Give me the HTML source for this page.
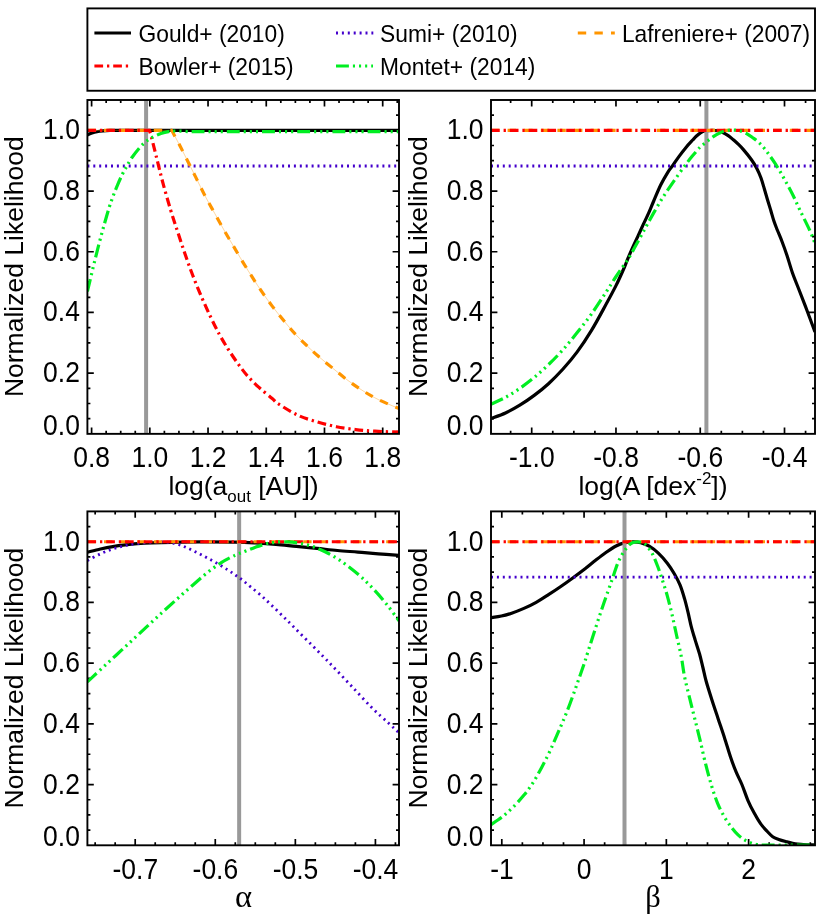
<!DOCTYPE html>
<html><head><meta charset="utf-8"><title>Normalized Likelihood</title>
<style>
html,body{margin:0;padding:0;background:#fff;}
body{width:830px;height:914px;overflow:hidden;}
svg{display:block;will-change:transform;font-family:"Liberation Sans",sans-serif;font-size:26.5px;fill:#000;}
</style></head><body>
<svg width="830" height="914" viewBox="0 0 830 914">
<rect width="830" height="914" fill="#fff"/>
<path d="M91.6 100v6.4M91.6 433.85v-6.4M106.16 100v3M106.16 433.85v-3M120.71 100v3M120.71 433.85v-3M135.26 100v3M135.26 433.85v-3M149.82 100v6.4M149.82 433.85v-6.4M164.38 100v3M164.38 433.85v-3M178.93 100v3M178.93 433.85v-3M193.48 100v3M193.48 433.85v-3M208.04 100v6.4M208.04 433.85v-6.4M222.59 100v3M222.59 433.85v-3M237.15 100v3M237.15 433.85v-3M251.7 100v3M251.7 433.85v-3M266.26 100v6.4M266.26 433.85v-6.4M280.81 100v3M280.81 433.85v-3M295.37 100v3M295.37 433.85v-3M309.92 100v3M309.92 433.85v-3M324.48 100v6.4M324.48 433.85v-6.4M339.03 100v3M339.03 433.85v-3M353.59 100v3M353.59 433.85v-3M368.14 100v3M368.14 433.85v-3M382.7 100v6.4M382.7 433.85v-6.4M397.25 100v3M397.25 433.85v-3M87.4 418.68h3M399 418.68h-3M87.4 403.5h3M399 403.5h-3M87.4 388.33h3M399 388.33h-3M87.4 373.15h6.4M399 373.15h-6.4M87.4 357.98h3M399 357.98h-3M87.4 342.8h3M399 342.8h-3M87.4 327.62h3M399 327.62h-3M87.4 312.45h6.4M399 312.45h-6.4M87.4 297.28h3M399 297.28h-3M87.4 282.1h3M399 282.1h-3M87.4 266.93h3M399 266.93h-3M87.4 251.75h6.4M399 251.75h-6.4M87.4 236.58h3M399 236.58h-3M87.4 221.4h3M399 221.4h-3M87.4 206.23h3M399 206.23h-3M87.4 191.05h6.4M399 191.05h-6.4M87.4 175.88h3M399 175.88h-3M87.4 160.7h3M399 160.7h-3M87.4 145.52h3M399 145.52h-3M87.4 130.35h6.4M399 130.35h-6.4M87.4 115.18h3M399 115.18h-3" stroke="#000" stroke-width="1.7" fill="none"/>
<clipPath id="c1"><rect x="87.4" y="100" width="311.6" height="333.85"/></clipPath>
<g clip-path="url(#c1)" fill="none" stroke-width="3.2">
<path d="M87.4 134.9C88.17 134.58 90.4 133.53 92 133C93.6 132.47 95.17 132.05 97 131.7C98.83 131.35 100.83 131.11 103 130.9C105.17 130.69 107.5 130.54 110 130.45C112.5 130.36 116.67 130.37 118 130.35L399 130.35" stroke="#000000"/>
<line x1="146.1" y1="100" x2="146.1" y2="433.85" stroke="#999999" stroke-width="4.0"/>
<path d="M87.4 166L399 166" stroke="#4400cc" stroke-width="2.8" stroke-dasharray="2.0 3.9"/>
<path d="M87.4 130.35L171.3 130.35C171.5 130.59 171.02 129.14 172.5 131.8C173.98 134.46 177.62 141.32 180.2 146.3C182.78 151.28 185.42 156.57 188 161.7C190.58 166.83 192.82 171.32 195.7 177.1C198.58 182.88 202.1 190.3 205.3 196.4C208.5 202.5 211.68 207.92 214.9 213.7C218.12 219.48 221.48 225.65 224.6 231.1C227.72 236.55 230.48 241.12 233.6 246.4C236.72 251.68 240.08 257.5 243.3 262.8C246.52 268.1 249.7 273.22 252.9 278.2C256.1 283.18 259.28 288.05 262.5 292.7C265.72 297.35 268.67 301.45 272.2 306.1C275.73 310.75 279.85 315.93 283.7 320.6C287.55 325.27 291.43 329.92 295.3 334.1C299.17 338.28 303.05 342 306.9 345.7C310.75 349.4 314.13 352.58 318.4 356.3C322.67 360.02 327.57 363.97 332.5 368C337.43 372.03 342.85 376.65 348 380.5C353.15 384.35 358.27 387.88 363.4 391.1C368.53 394.32 372.87 396.88 378.8 399.8C384.73 402.72 395.63 407.13 399 408.6" stroke="#ff9500" stroke-width="0.7" stroke-opacity="0.55"/>
<path d="M87.4 130.35L171.3 130.35C171.5 130.59 171.02 129.14 172.5 131.8C173.98 134.46 177.62 141.32 180.2 146.3C182.78 151.28 185.42 156.57 188 161.7C190.58 166.83 192.82 171.32 195.7 177.1C198.58 182.88 202.1 190.3 205.3 196.4C208.5 202.5 211.68 207.92 214.9 213.7C218.12 219.48 221.48 225.65 224.6 231.1C227.72 236.55 230.48 241.12 233.6 246.4C236.72 251.68 240.08 257.5 243.3 262.8C246.52 268.1 249.7 273.22 252.9 278.2C256.1 283.18 259.28 288.05 262.5 292.7C265.72 297.35 268.67 301.45 272.2 306.1C275.73 310.75 279.85 315.93 283.7 320.6C287.55 325.27 291.43 329.92 295.3 334.1C299.17 338.28 303.05 342 306.9 345.7C310.75 349.4 314.13 352.58 318.4 356.3C322.67 360.02 327.57 363.97 332.5 368C337.43 372.03 342.85 376.65 348 380.5C353.15 384.35 358.27 387.88 363.4 391.1C368.53 394.32 372.87 396.88 378.8 399.8C384.73 402.72 395.63 407.13 399 408.6" stroke="#ff9500" stroke-dasharray="8.4 8.2"/>
<path d="M87.4 130.35L149.3 130.35C149.63 131.39 150 131.69 151.3 136.6C152.6 141.51 155.17 152.08 157.1 159.8C159.03 167.52 160.65 174.55 162.9 182.9C165.15 191.25 168.13 201.73 170.6 209.9C173.07 218.07 175.23 224.37 177.7 231.9C180.17 239.43 182.83 247.7 185.4 255.1C187.97 262.5 190.37 269.23 193.1 276.3C195.83 283.37 198.9 290.77 201.8 297.5C204.7 304.23 207.6 310.6 210.5 316.7C213.4 322.8 216.32 328.78 219.2 334.1C222.08 339.42 224.75 343.78 227.8 348.6C230.85 353.42 234.28 358.52 237.5 363C240.72 367.48 243.57 371.48 247.1 375.5C250.63 379.52 254.52 383.27 258.7 387.1C262.88 390.93 268.88 395.68 272.2 398.5C275.52 401.32 274.33 401.22 278.6 404C282.87 406.78 291.38 412.22 297.8 415.2C304.22 418.18 310.67 419.98 317.1 421.9C323.53 423.82 329.97 425.42 336.4 426.7C342.83 427.98 349.28 428.85 355.7 429.6C362.12 430.35 367.68 430.77 374.9 431.2C382.12 431.63 394.98 432.03 399 432.2" stroke="#ff0000" stroke-dasharray="8.7 3.9 2.3 3.9"/>
<path d="M87.4 291.5C88.25 287.92 90.52 278.13 92.5 270C94.48 261.87 97.25 250.62 99.3 242.7C101.35 234.78 103.12 228.48 104.8 222.5C106.48 216.52 108 211.23 109.4 206.8C110.8 202.37 111.85 199.52 113.2 195.9C114.55 192.28 115.97 188.72 117.5 185.1C119.03 181.48 120.85 177.37 122.4 174.2C123.95 171.03 125.27 168.8 126.8 166.1C128.33 163.4 129.53 160.98 131.6 158C133.67 155.02 136.85 150.92 139.2 148.2C141.55 145.48 143.53 143.5 145.7 141.7C147.87 139.9 149.67 138.75 152.2 137.4C154.73 136.05 158.18 134.57 160.9 133.6C163.62 132.63 165.98 132.03 168.5 131.6C171.02 131.17 172.75 131 176 131C179.25 131 186 131.5 188 131.6L399 131.7" stroke="#00ee22" stroke-dasharray="12.9 4.0 2.1 4.0 2.1 4.0 2.1 4.0"/>
</g>
<rect x="87.4" y="100" width="311.6" height="333.85" fill="none" stroke="#000" stroke-width="1.9"/>
<text transform="translate(91.6 466.55) scale(1 1.085)" text-anchor="middle">0.8</text>
<text transform="translate(149.82 466.55) scale(1 1.085)" text-anchor="middle">1.0</text>
<text transform="translate(208.04 466.55) scale(1 1.085)" text-anchor="middle">1.2</text>
<text transform="translate(266.26 466.55) scale(1 1.085)" text-anchor="middle">1.4</text>
<text transform="translate(324.48 466.55) scale(1 1.085)" text-anchor="middle">1.6</text>
<text transform="translate(382.7 466.55) scale(1 1.085)" text-anchor="middle">1.8</text>
<text transform="translate(79.9 434.55) scale(1 1.085)" text-anchor="end">0.0</text>
<text transform="translate(79.9 382.15) scale(1 1.085)" text-anchor="end">0.2</text>
<text transform="translate(79.9 321.45) scale(1 1.085)" text-anchor="end">0.4</text>
<text transform="translate(79.9 260.75) scale(1 1.085)" text-anchor="end">0.6</text>
<text transform="translate(79.9 200.05) scale(1 1.085)" text-anchor="end">0.8</text>
<text transform="translate(79.9 139.35) scale(1 1.085)" text-anchor="end">1.0</text>
<text transform="translate(23.2 266.73) rotate(-90)" text-anchor="middle">Normalized Likelihood</text>
<text x="243.5" y="495.25" text-anchor="middle">log(a<tspan font-size="16.96" dy="7.1">out</tspan><tspan dy="-7.1"> [AU])</tspan></text>
<path d="M510.63 100v3M510.63 433.85v-3M531.7 100v6.4M531.7 433.85v-6.4M552.77 100v3M552.77 433.85v-3M573.84 100v3M573.84 433.85v-3M594.9 100v3M594.9 433.85v-3M615.97 100v6.4M615.97 433.85v-6.4M637.04 100v3M637.04 433.85v-3M658.11 100v3M658.11 433.85v-3M679.17 100v3M679.17 433.85v-3M700.24 100v6.4M700.24 433.85v-6.4M721.31 100v3M721.31 433.85v-3M742.38 100v3M742.38 433.85v-3M763.44 100v3M763.44 433.85v-3M784.51 100v6.4M784.51 433.85v-6.4M805.58 100v3M805.58 433.85v-3M491 418.68h3M815 418.68h-3M491 403.5h3M815 403.5h-3M491 388.33h3M815 388.33h-3M491 373.15h6.4M815 373.15h-6.4M491 357.98h3M815 357.98h-3M491 342.8h3M815 342.8h-3M491 327.62h3M815 327.62h-3M491 312.45h6.4M815 312.45h-6.4M491 297.28h3M815 297.28h-3M491 282.1h3M815 282.1h-3M491 266.93h3M815 266.93h-3M491 251.75h6.4M815 251.75h-6.4M491 236.58h3M815 236.58h-3M491 221.4h3M815 221.4h-3M491 206.23h3M815 206.23h-3M491 191.05h6.4M815 191.05h-6.4M491 175.88h3M815 175.88h-3M491 160.7h3M815 160.7h-3M491 145.52h3M815 145.52h-3M491 130.35h6.4M815 130.35h-6.4M491 115.18h3M815 115.18h-3" stroke="#000" stroke-width="1.7" fill="none"/>
<clipPath id="c2"><rect x="491" y="100" width="324" height="333.85"/></clipPath>
<g clip-path="url(#c2)" fill="none" stroke-width="3.2">
<path d="M491 418.5C493.42 417.58 500.7 415.22 505.5 413C510.3 410.78 515.02 408.13 519.8 405.2C524.58 402.27 529.42 398.98 534.2 395.4C538.98 391.82 543.73 388.05 548.5 383.7C553.27 379.35 558.02 374.6 562.8 369.3C567.58 364 572.42 358.38 577.2 351.9C581.98 345.42 586.73 338.25 591.5 330.4C596.27 322.55 601.7 312.3 605.8 304.8C609.9 297.3 613.02 291.62 616.1 285.4C619.18 279.18 622.22 272.27 624.3 267.5C626.38 262.73 627.08 260.4 628.6 256.8C630.12 253.2 631.77 249.52 633.4 245.9C635.03 242.28 636.73 238.72 638.4 235.1C640.07 231.48 641.72 227.82 643.4 224.2C645.08 220.58 646.82 217.18 648.5 213.4C650.18 209.62 651.45 206.27 653.5 201.5C655.55 196.73 658.37 189.75 660.8 184.8C663.23 179.85 666.13 174.98 668.1 171.8C670.07 168.62 670.8 168.23 672.6 165.7C674.4 163.17 676.63 159.68 678.9 156.6C681.17 153.52 683.9 149.97 686.2 147.2C688.5 144.43 690.98 141.87 692.7 140C694.42 138.13 695.2 137.2 696.5 136C697.8 134.8 699.08 133.63 700.5 132.8C701.92 131.97 702.9 131.42 705 131C707.1 130.58 710.93 130.33 713.1 130.3C715.27 130.27 716.47 130.48 718 130.8C719.53 131.12 720.53 131.35 722.3 132.2C724.07 133.05 726.75 134.63 728.6 135.9C730.45 137.17 731.8 138.42 733.4 139.8C735 141.18 736.53 142.57 738.2 144.2C739.87 145.83 741.22 147.05 743.4 149.6C745.58 152.15 749.08 156.4 751.3 159.5C753.52 162.6 755.08 165.12 756.7 168.2C758.32 171.28 759.73 174.57 761 178C762.27 181.43 763.22 185.18 764.3 188.8C765.38 192.42 766.42 196.08 767.5 199.7C768.58 203.32 769.72 206.9 770.8 210.5C771.88 214.1 772.92 218.05 774 221.3C775.08 224.55 775.97 226.63 777.3 230C778.63 233.37 780.38 237.25 782 241.5C783.62 245.75 785.25 250.25 787 255.5C788.75 260.75 790.48 267.25 792.5 273C794.52 278.75 796.68 283.75 799.1 290C801.52 296.25 804.35 303.5 807 310.5C809.65 317.5 813.67 328.42 815 332" stroke="#000000"/>
<line x1="706.4" y1="100" x2="706.4" y2="433.85" stroke="#999999" stroke-width="4.0"/>
<path d="M491 166L815 166" stroke="#4400cc" stroke-width="2.8" stroke-dasharray="2.0 3.9"/>
<path d="M491 130.35L815 130.35" stroke="#ff9500" stroke-dasharray="8.4 8.2"/>
<path d="M491 130.35L815 130.35" stroke="#ff0000" stroke-dasharray="8.7 3.9 2.3 3.9"/>
<path d="M491 404.2C493.42 403.07 500.7 400.03 505.5 397.4C510.3 394.77 515.02 391.72 519.8 388.4C524.58 385.08 529.42 381.47 534.2 377.5C538.98 373.53 543.73 369.2 548.5 364.6C553.27 360 558.02 355.25 562.8 349.9C567.58 344.55 572.42 338.48 577.2 332.5C581.98 326.52 586.73 320.67 591.5 314C596.27 307.33 601.7 298.75 605.8 292.5C609.9 286.25 613.23 280.83 616.1 276.5C618.97 272.17 620.77 269.78 623 266.5C625.23 263.22 627.42 260.23 629.5 256.8C631.58 253.37 633.5 249.52 635.5 245.9C637.5 242.28 639.52 238.72 641.5 235.1C643.48 231.48 645.42 227.82 647.4 224.2C649.38 220.58 651.25 217.18 653.4 213.4C655.55 209.62 658 205.27 660.3 201.5C662.6 197.73 664.7 194.55 667.2 190.8C669.7 187.05 672.38 183.15 675.3 179C678.22 174.85 681.93 169.63 684.7 165.9C687.47 162.17 689.38 159.67 691.9 156.6C694.42 153.53 697.7 149.7 699.8 147.5C701.9 145.3 702.92 144.72 704.5 143.4C706.08 142.08 707.7 140.8 709.3 139.6C710.9 138.4 712.5 137.23 714.1 136.2C715.7 135.17 717.3 134.23 718.9 133.4C720.5 132.57 721.93 131.73 723.7 131.2C725.47 130.67 727.57 130.37 729.5 130.2C731.43 130.03 733.22 129.98 735.3 130.2C737.38 130.42 739.92 130.82 742 131.5C744.08 132.18 746.02 133.27 747.8 134.3C749.58 135.33 751.25 136.67 752.7 137.7C754.15 138.73 755.07 139.3 756.5 140.5C757.93 141.7 759.47 142.9 761.3 144.9C763.13 146.9 764.92 148.98 767.5 152.5C770.08 156.02 773.9 161.4 776.8 166C779.7 170.6 782.28 175.4 784.9 180.1C787.52 184.8 789.97 189.13 792.5 194.2C795.03 199.27 797.22 204.45 800.1 210.5C802.98 216.55 807.32 225 809.8 230.5C812.28 236 814.13 241.33 815 243.5" stroke="#00ee22" stroke-dasharray="12.9 4.0 2.1 4.0 2.1 4.0 2.1 4.0"/>
</g>
<rect x="491" y="100" width="324" height="333.85" fill="none" stroke="#000" stroke-width="1.9"/>
<text transform="translate(531.8 466.55) scale(1 1.085)" text-anchor="middle">-1.0</text>
<text transform="translate(616.07 466.55) scale(1 1.085)" text-anchor="middle">-0.8</text>
<text transform="translate(700.34 466.55) scale(1 1.085)" text-anchor="middle">-0.6</text>
<text transform="translate(784.61 466.55) scale(1 1.085)" text-anchor="middle">-0.4</text>
<text transform="translate(483.5 434.55) scale(1 1.085)" text-anchor="end">0.0</text>
<text transform="translate(483.5 382.15) scale(1 1.085)" text-anchor="end">0.2</text>
<text transform="translate(483.5 321.45) scale(1 1.085)" text-anchor="end">0.4</text>
<text transform="translate(483.5 260.75) scale(1 1.085)" text-anchor="end">0.6</text>
<text transform="translate(483.5 200.05) scale(1 1.085)" text-anchor="end">0.8</text>
<text transform="translate(483.5 139.35) scale(1 1.085)" text-anchor="end">1.0</text>
<text transform="translate(426.8 266.73) rotate(-90)" text-anchor="middle">Normalized Likelihood</text>
<text x="653" y="495.25" text-anchor="middle">log(A [dex<tspan font-size="16.96" dy="-10.8">-2</tspan><tspan dy="10.8">])</tspan></text>
<path d="M95.16 511.4v3M95.16 845.3v-3M115.18 511.4v3M115.18 845.3v-3M135.2 511.4v6.4M135.2 845.3v-6.4M155.22 511.4v3M155.22 845.3v-3M175.23 511.4v3M175.23 845.3v-3M195.25 511.4v3M195.25 845.3v-3M215.27 511.4v6.4M215.27 845.3v-6.4M235.29 511.4v3M235.29 845.3v-3M255.3 511.4v3M255.3 845.3v-3M275.32 511.4v3M275.32 845.3v-3M295.34 511.4v6.4M295.34 845.3v-6.4M315.36 511.4v3M315.36 845.3v-3M335.38 511.4v3M335.38 845.3v-3M355.39 511.4v3M355.39 845.3v-3M375.41 511.4v6.4M375.41 845.3v-6.4M395.43 511.4v3M395.43 845.3v-3M87.4 830.12h3M399 830.12h-3M87.4 814.95h3M399 814.95h-3M87.4 799.77h3M399 799.77h-3M87.4 784.59h6.4M399 784.59h-6.4M87.4 769.41h3M399 769.41h-3M87.4 754.24h3M399 754.24h-3M87.4 739.06h3M399 739.06h-3M87.4 723.88h6.4M399 723.88h-6.4M87.4 708.7h3M399 708.7h-3M87.4 693.53h3M399 693.53h-3M87.4 678.35h3M399 678.35h-3M87.4 663.17h6.4M399 663.17h-6.4M87.4 648h3M399 648h-3M87.4 632.82h3M399 632.82h-3M87.4 617.64h3M399 617.64h-3M87.4 602.46h6.4M399 602.46h-6.4M87.4 587.29h3M399 587.29h-3M87.4 572.11h3M399 572.11h-3M87.4 556.93h3M399 556.93h-3M87.4 541.75h6.4M399 541.75h-6.4M87.4 526.58h3M399 526.58h-3" stroke="#000" stroke-width="1.7" fill="none"/>
<clipPath id="c3"><rect x="87.4" y="511.4" width="311.6" height="333.9"/></clipPath>
<g clip-path="url(#c3)" fill="none" stroke-width="3.2">
<path d="M87.4 552.2C89.58 551.67 96.27 549.93 100.5 549C104.73 548.07 108.7 547.28 112.8 546.6C116.9 545.92 121 545.38 125.1 544.9C129.2 544.42 132.97 544.03 137.4 543.7C141.83 543.37 145.9 543.13 151.7 542.9C157.5 542.67 164.15 542.47 172.2 542.3C180.25 542.13 189.53 541.93 200 541.9C210.47 541.87 225.75 541.93 235 542.1C244.25 542.27 248.67 542.53 255.5 542.9C262.33 543.27 269.18 543.72 276 544.3C282.82 544.88 289.58 545.72 296.4 546.4C303.22 547.08 310.07 547.72 316.9 548.4C323.73 549.08 330.57 549.88 337.4 550.5C344.23 551.12 351.07 551.55 357.9 552.1C364.73 552.65 371.55 553.25 378.4 553.8C385.25 554.35 395.57 555.13 399 555.4" stroke="#000000"/>
<line x1="239.15" y1="511.4" x2="239.15" y2="845.3" stroke="#999999" stroke-width="4.0"/>
<path d="M87.4 560.5C89.58 559.38 96.27 555.72 100.5 553.8C104.73 551.88 108.7 550.37 112.8 549C116.9 547.63 121 546.52 125.1 545.6C129.2 544.68 132.97 544.05 137.4 543.5C141.83 542.95 147.27 542.57 151.7 542.3C156.13 542.03 159.9 541.63 164 541.9C168.1 542.17 172.55 542.95 176.3 543.9C180.05 544.85 183.08 546.17 186.5 547.6C189.92 549.03 193.38 550.8 196.8 552.5C200.22 554.2 203.6 555.98 207 557.8C210.4 559.62 213.78 561.42 217.2 563.4C220.62 565.38 224.45 567.73 227.5 569.7C230.55 571.67 232.87 573.35 235.5 575.2C238.13 577.05 240.57 578.68 243.3 580.8C246.03 582.92 248.83 585.37 251.9 587.9C254.97 590.43 258.43 593.12 261.7 596C264.97 598.88 268.07 601.93 271.5 605.2C274.93 608.47 278.87 612.25 282.3 615.6C285.73 618.95 288.67 621.87 292.1 625.3C295.53 628.73 299.28 632.58 302.9 636.2C306.52 639.82 310.37 643.57 313.8 647C317.23 650.43 320.25 653.48 323.5 656.8C326.75 660.12 328.55 661.93 333.3 666.9C338.05 671.87 345.6 679.82 352 686.6C358.4 693.38 365.58 701.48 371.7 707.6C377.82 713.72 384.15 719.1 388.7 723.3C393.25 727.5 397.28 731.22 399 732.8" stroke="#4400cc" stroke-width="2.8" stroke-dasharray="2.0 3.9"/>
<path d="M87.4 541.75L399 541.75" stroke="#ff9500" stroke-dasharray="8.4 8.2"/>
<path d="M87.4 541.75L399 541.75" stroke="#ff0000" stroke-dasharray="8.7 3.9 2.3 3.9"/>
<path d="M87.4 681.8C88.38 680.88 90.1 679.27 93.3 676.3C96.5 673.33 101.98 668.27 106.6 664C111.22 659.73 116.22 655.13 121 650.7C125.78 646.27 130.53 641.83 135.3 637.4C140.07 632.97 144.82 628.53 149.6 624.1C154.38 619.67 159.22 615.17 164 610.8C168.78 606.43 173.52 602.17 178.3 597.9C183.08 593.63 187.92 589.37 192.7 585.2C197.48 581.03 202.23 576.67 207 572.9C211.77 569.13 216.52 565.58 221.3 562.6C226.08 559.62 231.72 556.88 235.7 555C239.68 553.12 241.9 552.6 245.2 551.3C248.5 550 252.08 548.43 255.5 547.2C258.92 545.97 262.28 544.75 265.7 543.9C269.12 543.05 272.23 542.43 276 542.1C279.77 541.77 284.22 541.67 288.3 541.9C292.38 542.13 296.42 542.72 300.5 543.5C304.58 544.28 308.7 545.23 312.8 546.6C316.9 547.97 321 549.68 325.1 551.7C329.2 553.72 333.3 556.07 337.4 558.7C341.5 561.33 345.6 564.33 349.7 567.5C353.8 570.67 357.9 573.95 362 577.7C366.1 581.45 370.2 585.57 374.3 590C378.4 594.43 382.48 599.18 386.6 604.3C390.72 609.42 396.93 617.97 399 620.7" stroke="#00ee22" stroke-dasharray="12.9 4.0 2.1 4.0 2.1 4.0 2.1 4.0"/>
</g>
<rect x="87.4" y="511.4" width="311.6" height="333.9" fill="none" stroke="#000" stroke-width="1.9"/>
<text transform="translate(135.3 878.9) scale(1 1.085)" text-anchor="middle">-0.7</text>
<text transform="translate(215.37 878.9) scale(1 1.085)" text-anchor="middle">-0.6</text>
<text transform="translate(295.44 878.9) scale(1 1.085)" text-anchor="middle">-0.5</text>
<text transform="translate(375.51 878.9) scale(1 1.085)" text-anchor="middle">-0.4</text>
<text transform="translate(79.9 846) scale(1 1.085)" text-anchor="end">0.0</text>
<text transform="translate(79.9 793.59) scale(1 1.085)" text-anchor="end">0.2</text>
<text transform="translate(79.9 732.88) scale(1 1.085)" text-anchor="end">0.4</text>
<text transform="translate(79.9 672.17) scale(1 1.085)" text-anchor="end">0.6</text>
<text transform="translate(79.9 611.46) scale(1 1.085)" text-anchor="end">0.8</text>
<text transform="translate(79.9 550.75) scale(1 1.085)" text-anchor="end">1.0</text>
<text transform="translate(23.2 678.15) rotate(-90)" text-anchor="middle">Normalized Likelihood</text>
<text x="243.5" y="907.1" text-anchor="middle" font-size="32.5" font-family="Liberation Serif, serif">α</text>
<path d="M501.8 511.4v6.4M501.8 845.3v-6.4M522.37 511.4v3M522.37 845.3v-3M542.94 511.4v3M542.94 845.3v-3M563.5 511.4v3M563.5 845.3v-3M584.07 511.4v6.4M584.07 845.3v-6.4M604.64 511.4v3M604.64 845.3v-3M625.21 511.4v3M625.21 845.3v-3M645.77 511.4v3M645.77 845.3v-3M666.34 511.4v6.4M666.34 845.3v-6.4M686.91 511.4v3M686.91 845.3v-3M707.48 511.4v3M707.48 845.3v-3M728.04 511.4v3M728.04 845.3v-3M748.61 511.4v6.4M748.61 845.3v-6.4M769.18 511.4v3M769.18 845.3v-3M789.75 511.4v3M789.75 845.3v-3M810.31 511.4v3M810.31 845.3v-3M491 830.12h3M815 830.12h-3M491 814.95h3M815 814.95h-3M491 799.77h3M815 799.77h-3M491 784.59h6.4M815 784.59h-6.4M491 769.41h3M815 769.41h-3M491 754.24h3M815 754.24h-3M491 739.06h3M815 739.06h-3M491 723.88h6.4M815 723.88h-6.4M491 708.7h3M815 708.7h-3M491 693.53h3M815 693.53h-3M491 678.35h3M815 678.35h-3M491 663.17h6.4M815 663.17h-6.4M491 648h3M815 648h-3M491 632.82h3M815 632.82h-3M491 617.64h3M815 617.64h-3M491 602.46h6.4M815 602.46h-6.4M491 587.29h3M815 587.29h-3M491 572.11h3M815 572.11h-3M491 556.93h3M815 556.93h-3M491 541.75h6.4M815 541.75h-6.4M491 526.58h3M815 526.58h-3" stroke="#000" stroke-width="1.7" fill="none"/>
<clipPath id="c4"><rect x="491" y="511.4" width="324" height="333.9"/></clipPath>
<g clip-path="url(#c4)" fill="none" stroke-width="3.2">
<path d="M491 617.7C492.73 617.42 497.97 616.75 501.4 616C504.83 615.25 507.85 614.47 511.6 613.2C515.35 611.93 519.8 610.22 523.9 608.4C528 606.58 532.1 604.58 536.2 602.3C540.3 600.02 544.4 597.33 548.5 594.7C552.6 592.07 556.7 589.33 560.8 586.5C564.9 583.67 569 580.7 573.1 577.7C577.2 574.7 581.65 571.4 585.4 568.5C589.15 565.6 592.18 562.97 595.6 560.3C599.02 557.63 602.48 554.88 605.9 552.5C609.32 550.12 613.03 547.6 616.1 546C619.17 544.4 621.57 543.58 624.3 542.9C627.03 542.22 629.77 541.95 632.5 541.9C635.23 541.85 637.92 541.88 640.7 542.6C643.48 543.32 646.27 544.45 649.2 546.2C652.13 547.95 655.25 550.23 658.3 553.1C661.35 555.97 664.83 559.97 667.5 563.4C670.17 566.83 672.2 570.08 674.3 573.7C676.4 577.32 678.38 580.9 680.1 585.1C681.82 589.3 683.27 594.32 684.6 598.9C685.93 603.48 687 608.03 688.1 612.6C689.2 617.17 690.02 621.72 691.2 626.3C692.38 630.88 693.82 635.52 695.2 640.1C696.58 644.68 698.22 649.23 699.5 653.8C700.78 658.37 701.8 662.97 702.9 667.5C704 672.03 704.57 675.5 706.1 681C707.63 686.5 710.08 694.18 712.1 700.5C714.12 706.82 716.15 712.75 718.2 718.9C720.25 725.05 722.3 730.92 724.4 737.4C726.5 743.88 728.83 752 730.8 757.8C732.77 763.6 734.35 767.75 736.2 772.2C738.05 776.65 739.92 779.73 741.9 784.5C743.88 789.27 746.05 796.03 748.1 800.8C750.15 805.57 752.15 809.33 754.2 813.1C756.25 816.87 758.35 820.48 760.4 823.4C762.45 826.32 764.45 828.38 766.5 830.6C768.55 832.82 770.65 835.23 772.7 836.7C774.75 838.17 776.42 838.55 778.8 839.4C781.18 840.25 784.27 841.05 787 841.8C789.73 842.55 792.47 843.45 795.2 843.9C797.93 844.35 800.1 844.32 803.4 844.5C806.7 844.68 813.07 844.92 815 845" stroke="#000000"/>
<line x1="624.5" y1="511.4" x2="624.5" y2="845.3" stroke="#999999" stroke-width="4.0"/>
<path d="M491 577.2L815 577.2" stroke="#4400cc" stroke-width="2.8" stroke-dasharray="2.0 3.9"/>
<path d="M491 541.75L815 541.75" stroke="#ff9500" stroke-dasharray="8.4 8.2"/>
<path d="M491 541.75L815 541.75" stroke="#ff0000" stroke-dasharray="8.7 3.9 2.3 3.9"/>
<path d="M491 824.6C492.88 823.3 498.6 819.73 502.3 816.8C506 813.87 509.58 810.62 513.2 807C516.82 803.38 520.75 799.07 524 795.1C527.25 791.13 529.8 787.72 532.7 783.2C535.6 778.68 538.5 773.42 541.4 768C544.3 762.58 547.22 756.85 550.1 750.7C552.98 744.55 555.82 737.8 558.7 731.1C561.58 724.4 564.5 717.9 567.4 710.5C570.3 703.1 573.38 694.28 576.1 686.7C578.82 679.12 581.82 670.53 583.7 665C585.58 659.47 585.42 659.68 587.4 653.5C589.38 647.32 592.87 636.27 595.6 627.9C598.33 619.53 601.07 611.32 603.8 603.3C606.53 595.28 609.62 586.62 612 579.8C614.38 572.98 616.05 567.18 618.1 562.4C620.15 557.62 622.25 554.18 624.3 551.1C626.35 548.02 628.35 545.43 630.4 543.9C632.45 542.37 634.55 542.07 636.6 541.9C638.65 541.73 640.98 542.18 642.7 542.9C644.42 543.62 645.25 544.32 646.9 546.2C648.55 548.08 650.7 550.57 652.6 554.2C654.5 557.83 656.58 563.42 658.3 568C660.02 572.58 661.37 576.93 662.9 581.7C664.43 586.47 665.97 591.07 667.5 596.6C669.03 602.13 670.58 608.42 672.1 614.9C673.62 621.38 675.08 628.63 676.6 635.5C678.12 642.37 679.87 649.18 681.2 656.1C682.53 663.02 683.18 669.95 684.6 677C686.02 684.05 688 691.42 689.7 698.4C691.4 705.38 693.1 712.07 694.8 718.9C696.5 725.73 698.18 732.23 699.9 739.4C701.62 746.57 703.22 754.38 705.1 761.9C706.98 769.42 709.15 777.67 711.2 784.5C713.25 791.33 715.27 797.62 717.4 802.9C719.53 808.18 721.77 812.27 724 816.2C726.23 820.13 728.5 823.42 730.8 826.5C733.1 829.58 735.52 832.48 737.8 834.7C740.08 836.92 742.05 838.33 744.5 839.8C746.95 841.27 749.83 842.63 752.5 843.5C755.17 844.37 759.17 844.75 760.5 845L815 845" stroke="#00ee22" stroke-dasharray="12.9 4.0 2.1 4.0 2.1 4.0 2.1 4.0"/>
</g>
<rect x="491" y="511.4" width="324" height="333.9" fill="none" stroke="#000" stroke-width="1.9"/>
<text transform="translate(501.9 878.9) scale(1 1.085)" text-anchor="middle">-1</text>
<text transform="translate(584.07 878.9) scale(1 1.085)" text-anchor="middle">0</text>
<text transform="translate(666.34 878.9) scale(1 1.085)" text-anchor="middle">1</text>
<text transform="translate(748.61 878.9) scale(1 1.085)" text-anchor="middle">2</text>
<text transform="translate(483.5 846) scale(1 1.085)" text-anchor="end">0.0</text>
<text transform="translate(483.5 793.59) scale(1 1.085)" text-anchor="end">0.2</text>
<text transform="translate(483.5 732.88) scale(1 1.085)" text-anchor="end">0.4</text>
<text transform="translate(483.5 672.17) scale(1 1.085)" text-anchor="end">0.6</text>
<text transform="translate(483.5 611.46) scale(1 1.085)" text-anchor="end">0.8</text>
<text transform="translate(483.5 550.75) scale(1 1.085)" text-anchor="end">1.0</text>
<text transform="translate(426.8 678.15) rotate(-90)" text-anchor="middle">Normalized Likelihood</text>
<text x="653" y="906.9" text-anchor="middle" font-size="30.5" font-family="Liberation Serif, serif">β</text>
<rect x="87.4" y="8.4" width="727.6" height="82.35" fill="#fff" stroke="#000" stroke-width="1.9"/>
<line x1="94.4" y1="33" x2="131" y2="33" stroke="#000000" stroke-width="3.2"/>
<text transform="translate(138.5 41.6) scale(1 1.035)" font-size="22.8">Gould+ (2010)</text>
<line x1="94.4" y1="66" x2="131" y2="66" stroke="#ff0000" stroke-width="3.2" stroke-dasharray="8.7 3.9 2.3 3.9"/>
<text transform="translate(138.5 74.6) scale(1 1.035)" font-size="22.8">Bowler+ (2015)</text>
<line x1="336" y1="33" x2="373.3" y2="33" stroke="#4400cc" stroke-width="2.8" stroke-dasharray="2.0 3.9"/>
<text transform="translate(380.1 41.6) scale(1 1.035)" font-size="22.8">Sumi+ (2010)</text>
<line x1="336" y1="66" x2="373" y2="66" stroke="#00ee22" stroke-width="3.2" stroke-dasharray="12.9 4.0 2.1 4.0 2.1 4.0 2.1 4.0"/>
<text transform="translate(380.1 74.6) scale(1 1.035)" font-size="22.8">Montet+ (2014)</text>
<line x1="577.8" y1="33" x2="614.8" y2="33" stroke="#ff9500" stroke-width="3.2" stroke-dasharray="8.4 8.2"/>
<text transform="translate(621.9 41.6) scale(1 1.035)" font-size="22.8">Lafreniere+ (2007)</text>
</svg>
</body></html>
